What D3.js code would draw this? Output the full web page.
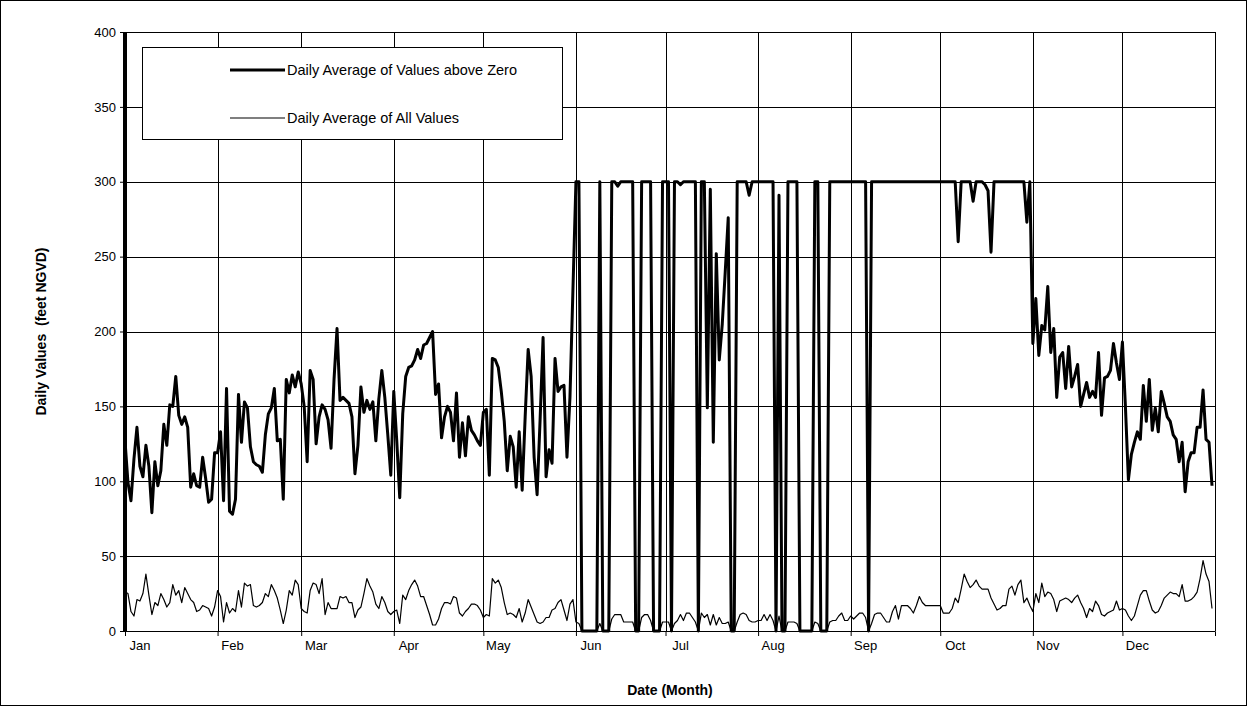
<!DOCTYPE html>
<html><head><meta charset="utf-8">
<script src="https://cdn.jsdelivr.net/npm/d3@7"></script>
<style>html,body{margin:0;padding:0;background:#fff}svg{display:block;font-family:"Liberation Sans",Arial,sans-serif}</style>
</head><body>
<svg id="chart" width="1247" height="706"></svg>
<script>
const monthLabels = ["Jan","Feb","Mar","Apr","May","Jun","Jul","Aug","Sep","Oct","Nov","Dec"];
const yTicks = [0,50,100,150,200,250,300,350,400];
const seriesNames = ["Daily Average of Values above Zero","Daily Average of All Values"];

// Daily Average of Values above Zero, by month
const aboveJan = [127,99,87,115,136,110,103,124,110,79,113,97,107,138,124,151,150,170,144,138,143,136,96,105,97,96,116,102,86,88,119];
const aboveFeb = [119,133,87,162,80,78,88,158,126,153,149,123,113,111,110,106,131,145,149,162,127,128,88,168,159,171,163,173];
const aboveMar = [165,150,113,174,168,125,143,151,148,141,122,168,202,154,156,154,152,143,105,124,163,146,154,148,153,127,155,174,156,131,104];
const aboveApr = [160,127,89,145,170,176,177,181,188,182,191,192,196,200,158,165,129,143,150,146,127,159,116,139,117,143,134,131,127,124];
const aboveMay = [146,148,104,182,181,176,160,140,107,130,123,96,133,94,143,188,170,116,91,141,196,103,121,112,182,160,163,164,116,156,228];
const aboveJun = [300,300,0,0,0,0,0,0,300,0,0,0,300,300,297,300,300,300,300,300,0,0,300,300,300,300,0,0,0,300];
const aboveJul = [300,300,0,300,300,298,300,300,300,300,300,0,300,300,149,295,126,252,181,205,240,276,0,0,300,300,300,300,291,300,300];
const aboveAug = [300,300,300,300,300,300,0,291,0,0,300,300,300,300,0,0,0,0,0,300,300,0,0,0,300,300,300,300,300,300,300];
const aboveSep = [300,300,300,300,300,300,0,300,300,300,300,300,300,300,300,300,300,300,300,300,300,300,300,300,300,300,300,300,300,300];
const aboveOct = [300,300,300,300,300,300,260,300,300,300,300,287,300,300,300,298,294,253,300,300,300,300,300,300,300,300,300,300,300,273,300];
const aboveNov = [192,222,184,204,201,230,186,202,156,183,186,162,190,163,170,178,150,158,166,156,160,156,186,144,169,170,174,192,179,168];
const aboveDec = [193,150,101,118,126,133,128,164,140,168,134,149,133,160,152,143,140,131,128,113,126,93,113,119,119,136,136,161,128,126,97];

// Daily Average of All Values, by month
const allJan = [26,25,13,10,21,20,25,38,24,11,19,17,25,21,16,19,31,24,27,19,29,25,21,19,13,14,17,16,15,10,16];
const allFeb = [27,23,6,19,12,15,13,27,16,32,30,31,17,16,17,19,25,23,31,27,22,14,5,14,27,24,34,31];
const allMar = [15,13,12,27,32,31,25,35,11,19,15,15,15,23,22,23,19,19,9,14,16,25,35,30,26,18,15,23,19,13,11];
const allApr = [13,14,5,24,21,27,31,34,30,23,23,17,11,4,4,8,15,19,19,18,23,22,12,10,13,15,18,18,17,14];
const allMay = [9,11,10,35,32,34,29,19,11,12,11,9,15,6,12,21,16,11,6,5,6,9,9,14,15,19,21,14,7,18,21];
const allJun = [6,5,0,0,0,0,0,0,5,0,0,0,8,11,11,11,6,6,6,6,0,0,9,11,11,7,0,0,0,6];
const allJul = [6,6,0,5,7,11,7,12,12,9,6,0,12,9,11,4,11,4,9,5,5,6,0,0,6,11,12,11,7,6,6];
const allAug = [7,7,11,7,11,7,0,10,0,0,6,6,6,5,0,0,0,0,0,6,5,0,0,0,6,7,7,10,12,7,7];
const allSep = [10,8,10,12,12,9,0,5,11,12,12,9,6,6,13,17,8,17,17,17,15,12,17,23,19,17,17,17,17,17];
const allOct = [17,12,12,12,15,22,19,28,38,33,29,31,34,30,28,28,28,22,18,14,15,17,17,28,30,24,31,34,19,22,17];
const allNov = [13,25,19,32,23,26,25,21,13,20,21,22,21,19,22,24,19,15,9,15,13,20,17,11,10,12,13,14,20,14];
const allDec = [15,14,10,7,10,17,24,27,27,20,14,12,13,17,22,24,26,25,25,23,31,20,20,21,23,26,35,47,38,33,15];

const aboveZero = [].concat(aboveJan,aboveFeb,aboveMar,aboveApr,aboveMay,aboveJun,aboveJul,aboveAug,aboveSep,aboveOct,aboveNov,aboveDec);
const allValues = [].concat(allJan,allFeb,allMar,allApr,allMay,allJun,allJul,allAug,allSep,allOct,allNov,allDec);

const start = new Date(2001,0,1);
const dayDate = i => d3.timeDay.offset(start, i);

const svg = d3.select("#chart");
const L = 125, R = 1215, T = 32, B = 631;
const x = d3.scaleTime().domain([start, new Date(2002,0,1)]).range([L, R]);
const y = d3.scaleLinear().domain([0, 400]).range([B, T]);
const monthStarts = d3.range(12).map(m => new Date(2001, m, 1));

// outer frame
svg.append("rect").attr("x",0.5).attr("y",0.5).attr("width",1246).attr("height",705)
  .attr("fill","#fff").attr("stroke","#000").attr("stroke-width",1);

// gridlines
svg.append("g").selectAll("line").data(yTicks.filter(v=>v>0)).join("line")
  .attr("x1",L).attr("x2",R).attr("y1",d=>Math.round(y(d))+0.5).attr("y2",d=>Math.round(y(d))+0.5)
  .attr("stroke","#000").attr("stroke-width",1);
svg.append("g").selectAll("line").data(monthStarts.slice(1).concat([new Date(2002,0,1)])).join("line")
  .attr("x1",d=>Math.round(x(d))+0.5).attr("x2",d=>Math.round(x(d))+0.5).attr("y1",T).attr("y2",B)
  .attr("stroke","#000").attr("stroke-width",1);

// y axis
const yAxis = d3.axisLeft(y).tickValues(yTicks).tickSize(5).tickPadding(4);
const gy = svg.append("g").attr("transform",`translate(${L},0)`).call(yAxis);
gy.select(".domain").remove();
gy.selectAll("text").attr("font-size",13).attr("fill","#000").attr("font-family","Liberation Sans, Arial, sans-serif");
gy.selectAll(".tick line").attr("stroke","#000");

// x axis
const xAxis = d3.axisBottom(x).tickValues(monthStarts).tickSize(5).tickFormat("");
const gx = svg.append("g").attr("transform",`translate(0,${B})`).call(xAxis);
gx.select(".domain").attr("stroke","#000");
gx.selectAll(".tick line").attr("stroke","#000");
svg.append("g").selectAll("text").data(monthStarts).join("text")
  .attr("x",(d,i)=>x(d)+15).attr("y",B+19).attr("text-anchor","middle")
  .attr("font-size",13).text((d,i)=>monthLabels[i]);

// heavy left axis line
svg.append("line").attr("x1",L).attr("x2",L).attr("y1",T).attr("y2",B).attr("stroke","#000").attr("stroke-width",4);

// series
const line = d3.line().x((d,i)=>x(dayDate(i))).y(d=>y(d)).curve(d3.curveLinear);
svg.append("path").datum(allValues).attr("d",line).attr("fill","none").attr("stroke","#000").attr("stroke-width",1.2).attr("stroke-linejoin","round");
svg.append("path").datum(aboveZero).attr("d",line).attr("fill","none").attr("stroke","#000").attr("stroke-width",3).attr("stroke-linejoin","round");

// axis titles
svg.append("text").attr("x",(L+R)/2).attr("y",695).attr("text-anchor","middle")
  .attr("font-size",14).attr("font-weight","bold").text("Date (Month)");
svg.append("text").attr("transform",`translate(46,${(T+B)/2}) rotate(-90)`).attr("text-anchor","middle")
  .attr("font-size",14).attr("font-weight","bold").attr("xml:space","preserve").style("white-space","pre").text("Daily Values  (feet NGVD)");

// legend
const lg = svg.append("g");
lg.append("rect").attr("x",142.5).attr("y",47.5).attr("width",420).attr("height",92).attr("fill","#fff").attr("stroke","#000");
const legendRows = [{name:seriesNames[0], w:3, yy:70},{name:seriesNames[1], w:1.2, yy:118}];
legendRows.forEach(r=>{
  lg.append("line").attr("x1",230).attr("x2",285).attr("y1",r.yy).attr("y2",r.yy).attr("stroke","#000").attr("stroke-width",r.w);
  lg.append("text").attr("x",287).attr("y",r.yy+5).attr("font-size",14.5).text(r.name);
});
</script>
</body></html>
